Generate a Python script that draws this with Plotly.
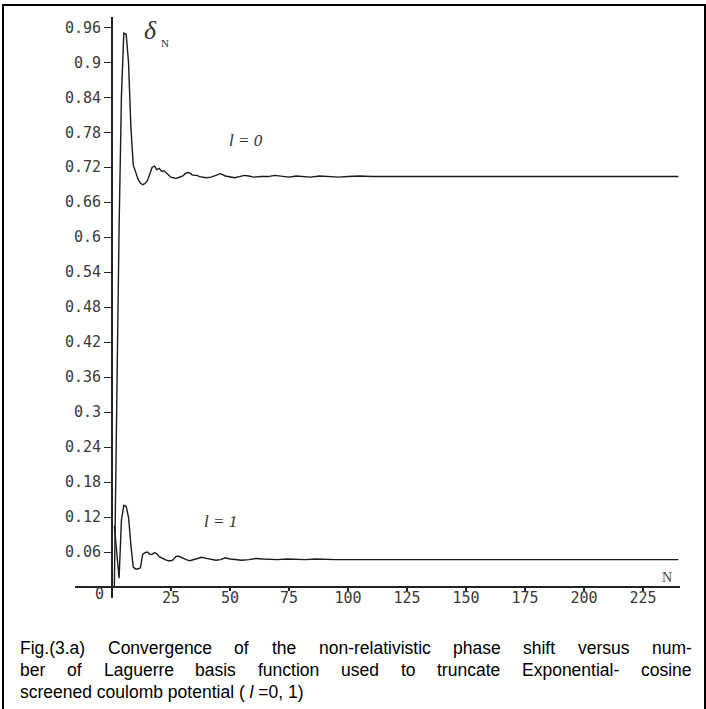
import plotly.graph_objects as go

# ---------------- data ----------------
N_l0 = [1, 2, 3, 4, 5, 6, 7, 8, 9, 10, 11, 12, 13, 14, 15, 16, 17, 18, 19, 20,
        21, 22, 23, 24, 25, 26, 27, 28, 29, 30, 31, 32, 33, 34, 35, 36, 37, 38,
        40, 42, 44, 46, 48, 50, 52, 54, 56, 58, 60, 63, 66, 69, 72, 75, 78, 81,
        84, 88, 92, 96, 100, 105, 110, 115, 120, 125, 130, 140, 150, 160, 170,
        180, 190, 200, 210, 220, 230, 240]
delta_l0 = [0.000, 0.333, 0.616, 0.842, 0.950, 0.948, 0.900, 0.789, 0.724, 0.712,
            0.700, 0.693, 0.690, 0.692, 0.697, 0.708, 0.720, 0.722, 0.716, 0.718,
            0.713, 0.714, 0.710, 0.706, 0.703, 0.702, 0.701, 0.702, 0.703, 0.705,
            0.709, 0.711, 0.710, 0.707, 0.706, 0.706, 0.704, 0.703,
            0.702, 0.703, 0.706, 0.709, 0.705, 0.703, 0.702, 0.704, 0.706, 0.705,
            0.703, 0.704, 0.704, 0.706, 0.704, 0.703, 0.705, 0.704,
            0.703, 0.705, 0.704, 0.703, 0.704, 0.705, 0.704, 0.704, 0.705, 0.704,
            0.704, 0.705, 0.704, 0.704, 0.704,
            0.704, 0.704, 0.704, 0.704, 0.704, 0.704, 0.704]

N_l1 = [1, 2, 3, 4, 5, 6, 7, 8, 9, 10, 11, 12, 13, 14, 15, 16, 17, 18, 19, 20,
        21, 22, 23, 24, 25, 26, 27, 28, 29, 30, 31, 32, 33, 34, 36, 38, 40, 42,
        44, 46, 48, 50, 52, 55, 58, 61, 64, 67, 70, 74, 78, 82, 86, 90, 95, 100,
        110, 120, 140, 160, 180, 200, 220, 240]
delta_l1 = [0.105, 0.062, 0.015, 0.115, 0.140, 0.138, 0.120, 0.072, 0.034, 0.031,
            0.031, 0.033, 0.056, 0.059, 0.060, 0.056, 0.056, 0.059, 0.057, 0.052,
            0.050, 0.047, 0.046, 0.045, 0.045, 0.047, 0.052, 0.053, 0.051, 0.049,
            0.047, 0.046, 0.045, 0.046, 0.049, 0.051, 0.049, 0.047,
            0.046, 0.047, 0.050, 0.048, 0.047, 0.046, 0.047, 0.049, 0.048, 0.047,
            0.047, 0.048, 0.047, 0.047, 0.048, 0.047, 0.047, 0.047,
            0.047, 0.047, 0.047, 0.047, 0.047, 0.047, 0.047, 0.047]

y_ticks = [0.06, 0.12, 0.18, 0.24, 0.3, 0.36, 0.42, 0.48, 0.54, 0.6,
           0.66, 0.72, 0.78, 0.84, 0.9, 0.96]
y_ticktext = ["0.06", "0.12", "0.18", "0.24", "0.3", "0.36", "0.42", "0.48",
              "0.54", "0.6", "0.66", "0.72", "0.78", "0.84", "0.9", "0.96"]
x_ticks = [25, 50, 75, 100, 125, 150, 175, 200, 225]
x_ticktext = ["25", "50", "75", "100", "125", "150", "175", "200", "225"]

caption_lines = [
    "Fig.(3.a) Convergence of the non-relativistic phase shift versus num-",
    "ber of Laguerre basis function used to truncate Exponential- cosine",
]
caption_last = "screened coulomb potential ( <i>l</i> =0, 1)"

# ---------------- layout helpers ----------------
W, H = 706, 709


def px(x):
    return x / W


def py(y):
    return 1 - y / H


# pixel geometry of the axes
X0_PIX, PIX_PER_N = 112, 2.36
Y0_PIX, PIX_PER_V = 587, 583.0
XL, XR = 75, 680
YT, YB = 17, 598
x_range = [(XL - X0_PIX) / PIX_PER_N, (XR - X0_PIX) / PIX_PER_N]
y_range = [(Y0_PIX - YB) / PIX_PER_V, (Y0_PIX - YT) / PIX_PER_V]

tick_font = dict(family="DejaVu Sans Mono", size=15, color="#3a3a3a")

fig = go.Figure()
fig.add_trace(go.Scatter(x=N_l0, y=delta_l0, mode="lines",
                         line=dict(color="#1a1a1a", width=1.4), showlegend=False))
fig.add_trace(go.Scatter(x=N_l1, y=delta_l1, mode="lines",
                         line=dict(color="#1a1a1a", width=1.4), showlegend=False))

fig.update_layout(
    width=W, height=H,
    margin=dict(l=0, r=0, t=0, b=0),
    paper_bgcolor="white", plot_bgcolor="white",
    xaxis=dict(domain=[px(XL), px(XR)], range=x_range, anchor="free",
               position=py(Y0_PIX), showline=True, linecolor="#222",
               linewidth=1.5, showgrid=False, zeroline=False,
               tickmode="array", tickvals=x_ticks, ticktext=x_ticktext,
               ticks="outside", ticklen=3, tickwidth=1.5, tickcolor="#222",
               ticklabelstandoff=-6,
               tickfont=tick_font, automargin=False),
    yaxis=dict(domain=[py(YB), py(YT)], range=y_range, anchor="free",
               position=px(X0_PIX), showline=True, linecolor="#222",
               linewidth=1.8, showgrid=False, zeroline=False,
               tickmode="array", tickvals=y_ticks, ticktext=y_ticktext,
               ticks="outside", ticklen=7, tickwidth=1.2, tickcolor="#222",
               tickfont=tick_font, automargin=False),
)

# outer frame
fig.add_shape(type="rect", xref="paper", yref="paper",
              x0=px(3), x1=px(705), y0=py(715), y1=py(5),
              line=dict(color="black", width=2), fillcolor="rgba(0,0,0,0)")

annos = []
serif = "Liberation Serif"
annos.append(dict(x=px(99), y=py(594), text="0", font=tick_font))
annos.append(dict(x=px(150), y=py(30), text="<i>δ</i>",
                  font=dict(family=serif, size=26, color="#333")))
annos.append(dict(x=px(165), y=py(43), text="N",
                  font=dict(family=serif, size=11, color="#333")))
annos.append(dict(x=px(246), y=py(140), text="<i>l = 0</i>",
                  font=dict(family=serif, size=17, color="#333")))
annos.append(dict(x=px(220), y=py(521), text="<i>l = 1</i>",
                  font=dict(family=serif, size=17, color="#333")))
annos.append(dict(x=px(667), y=py(577), text="N",
                  font=dict(family=serif, size=14, color="#444")))

# caption (justified lines built word by word)
AW = {' ': 278, '(': 333, ')': 333, ',': 278, '-': 333, '.': 278, '=': 584,
      'a': 556, 'b': 556, 'c': 500, 'd': 556, 'e': 556, 'f': 278, 'g': 556,
      'h': 556, 'i': 222, 'j': 222, 'k': 500, 'l': 222, 'm': 833, 'n': 556,
      'o': 556, 'p': 556, 'q': 556, 'r': 333, 's': 500, 't': 278, 'u': 556,
      'v': 500, 'w': 722, 'x': 500, 'y': 500, 'z': 500, 'C': 722, 'E': 667,
      'F': 611, 'L': 556}
CAP_FS = 17.5
cap_font = dict(family="Liberation Sans", size=CAP_FS, color="black")


def tw(s):
    return sum(AW.get(c, 556) for c in s) * CAP_FS / 1000


CAP_L, CAP_R = 18, 690
cap_y = [648, 670, 692]
for line, yy in zip(caption_lines, cap_y):
    words = line.split(" ")
    total = sum(tw(w) for w in words)
    gap = (CAP_R - CAP_L - total) / (len(words) - 1)
    xx = CAP_L
    for w in words:
        annos.append(dict(x=px(xx), y=py(yy), text=w, xanchor="left",
                          font=cap_font))
        xx += tw(w) + gap
annos.append(dict(x=px(CAP_L), y=py(cap_y[2]), text=caption_last,
                  xanchor="left", font=cap_font))

for a in annos:
    a.setdefault("xanchor", "center")
    a.update(xref="paper", yref="paper", yanchor="middle", showarrow=False)
fig.update_layout(annotations=annos)

fig.write_html("out.html")
